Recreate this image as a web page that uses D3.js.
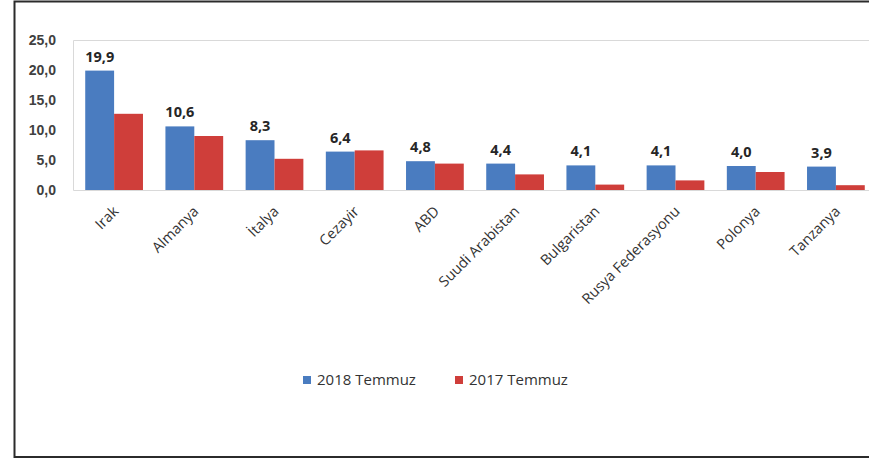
<!DOCTYPE html>
<html>
<head>
<meta charset="utf-8">
<style>
  body { margin: 0; background: #fff; overflow: hidden; }
  svg { font-family: "Open Sans", "Noto Sans", sans-serif; display: block; }
  .tick text { fill: #404040; font-size: 14px; }
</style>
</head>
<body>
<svg width="869" height="458"></svg>
<script src="https://d3js.org/d3.v7.min.js"></script>
<script>
var countries = ["Irak", "Almanya", "İtalya", "Cezayir", "ABD", "Suudi Arabistan", "Bulgaristan", "Rusya Federasyonu", "Polonya", "Tanzanya"];
var series = ["2018 Temmuz", "2017 Temmuz"];
var vals2018 = [19.9, 10.6, 8.3, 6.4, 4.8, 4.4, 4.1, 4.1, 4.0, 3.9];
var vals2017 = [12.7, 9.0, 5.2, 6.6, 4.4, 2.6, 0.9, 1.6, 3.0, 0.8];
var yTicks = [0, 5, 10, 15, 20, 25];
var colors = ["#4a7cc0", "#cf3e3a"];

var svg = d3.select("svg");
var plot = {left: 73, right: 876, top: 40, bottom: 190};

// outer frame (right edge cropped off)
svg.append("path")
    .attr("d", "M869,1.5H14.5V457H869")
    .attr("fill", "none")
    .attr("stroke", "#2b2b2b")
    .attr("stroke-width", 2);

var x0 = d3.scaleBand().domain(countries).range([plot.left + 1, plot.right]).paddingInner(0.28).paddingOuter(0.14);
var x1 = d3.scaleBand().domain(series).range([0, x0.bandwidth()]);
var y = d3.scaleLinear().domain([0, 25]).range([plot.bottom, plot.top]);

var fmt = function(v) { return d3.format(".1f")(v).replace(".", ","); };

// plot area border (top, left, bottom)
svg.append("path")
    .attr("d", "M869," + (plot.top + 0.5) + "H" + (plot.left + 0.5) + "V" + (plot.bottom + 0.5) + "H869")
    .attr("fill", "none").attr("stroke", "#d9d9d9");

var yAxis = svg.append("g")
    .attr("transform", "translate(" + (plot.left - 12) + ",0)")
    .call(d3.axisLeft(y).tickValues(yTicks).tickFormat(fmt).tickSize(0).tickPadding(5));
yAxis.select(".domain").remove();
yAxis.selectAll("text").style("font-weight", "600");

var data = countries.map(function(c, i) { return {c: c, v: [vals2018[i], vals2017[i]]}; });

var groups = svg.selectAll("g.grp")
    .data(data)
  .enter().append("g")
    .attr("class", "grp")
    .attr("transform", function(d) { return "translate(" + x0(d.c) + ",0)"; });

groups.selectAll("rect")
    .data(function(d) { return d.v.map(function(v, k) { return {s: series[k], v: v, k: k}; }); })
  .enter().append("rect")
    .attr("x", function(d) { return x1(d.s); })
    .attr("width", x1.bandwidth())
    .attr("y", function(d) { return y(d.v); })
    .attr("height", function(d) { return y(0) - y(d.v); })
    .attr("fill", function(d) { return colors[d.k]; });

// value labels on 2018 bars
groups.append("text")
    .attr("x", x1(series[0]) + x1.bandwidth() / 2)
    .attr("y", function(d) { return y(d.v[0]) - 9; })
    .attr("text-anchor", "middle")
    .style("font-size", "14.5px")
    .style("font-weight", "bold")
    .style("fill", "#262626")
    .text(function(d) { return fmt(d.v[0]); });

// category labels, rotated
svg.selectAll("text.cat")
    .data(countries)
  .enter().append("text")
    .attr("class", "cat")
    .attr("transform", function(d) { return "translate(" + (x0(d) + x0.bandwidth() / 2 - 2) + "," + (plot.bottom + 15) + ") rotate(-45)"; })
    .attr("text-anchor", "end")
    .attr("dy", "0.7em")
    .style("font-size", "14.5px")
    .style("fill", "#333")
    .text(function(d) { return d; });

// legend
var legend = svg.append("g").attr("transform", "translate(303,380)");
var items = legend.selectAll("g")
    .data(series)
  .enter().append("g")
    .attr("transform", function(d, i) { return "translate(" + (i * 152) + ",0)"; });
items.append("rect")
    .attr("x", 0).attr("y", -4)
    .attr("width", 8).attr("height", 8)
    .attr("fill", function(d, i) { return colors[i]; });
items.append("text")
    .attr("x", 14).attr("y", 0)
    .attr("dy", "0.35em")
    .style("font-size", "15px")
    .style("fill", "#333")
    .text(function(d) { return d; });
</script>
</body>
</html>
